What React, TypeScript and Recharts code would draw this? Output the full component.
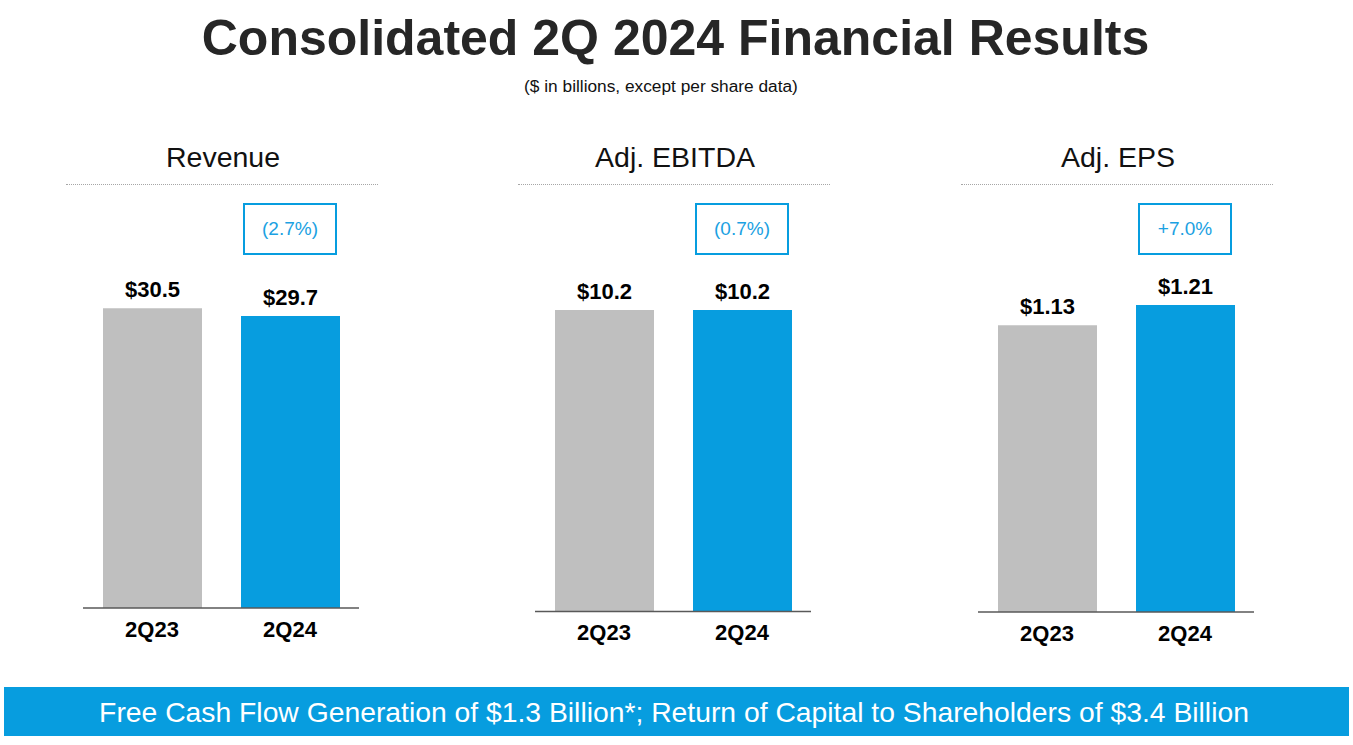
import { BarChart, Bar, XAxis, YAxis, Cell, LabelList } from 'recharts';

const FONT = '"Liberation Sans", Arial, Helvetica, sans-serif';

// periods shown in every panel
const categories = ['2Q23', '2Q24'];

// reported values ($ billions, EPS in $)
const revenueValues = [30.5, 29.7];
const ebitdaValues = [10.2, 10.2];
const epsValues = [1.13, 1.21];

const panelTitles = ['Revenue', 'Adj. EBITDA', 'Adj. EPS'];
const changeLabels = ['(2.7%)', '(0.7%)', '+7.0%'];

const BAR_COLORS = ['#bfbfbf', '#079ddf'];
const BLUE = '#079ddf';

const CHART_TOP = 190;

interface PanelProps {
    title: string;
    values: number[];
    decimals: number;
    yMax: number;
    axisLeft: number;
    baseline: number;
    change: string;
}

const Panel = ({ title, values, decimals, yMax, axisLeft, baseline, change }: PanelProps) => {
    const data = categories.map((c, i) => ({ period: c, value: values[i] }));
    const chartHeight = baseline - CHART_TOP + 45;

    return (
        <>
            <div
                style={{
                    position: 'absolute',
                    left: axisLeft + 140 - 160,
                    width: 320,
                    top: 142.6,
                    fontSize: 28.5,
                    lineHeight: '28.5px',
                    textAlign: 'center',
                    color: '#111',
                }}
            >
                {title}
            </div>
            <div
                style={{
                    position: 'absolute',
                    left: axisLeft - 17,
                    width: 312,
                    top: 184,
                    borderTop: '1px dotted #a6a6a6',
                }}
            />
            <div
                style={{
                    position: 'absolute',
                    left: axisLeft + 160,
                    top: 203,
                    width: 94,
                    height: 52,
                    boxSizing: 'border-box',
                    border: `2px solid ${BLUE}`,
                    color: '#1ba1e2',
                    fontSize: 19,
                    display: 'flex',
                    alignItems: 'center',
                    justifyContent: 'center',
                }}
            >
                {change}
            </div>
            <div style={{ position: 'absolute', left: axisLeft - 20, top: CHART_TOP }}>
                <BarChart
                    width={316}
                    height={chartHeight}
                    data={data}
                    margin={{ top: 10, right: 20, bottom: 5, left: 20 }}
                >
                    <XAxis
                        dataKey="period"
                        height={40}
                        tickLine={false}
                        tickMargin={7}
                        axisLine={{ stroke: '#595959', strokeWidth: 1.5 }}
                        tick={{ fill: '#000', fontSize: 22, fontWeight: 700 }}
                    />
                    <YAxis hide type="number" domain={[0, yMax]} allowDataOverflow />
                    <Bar dataKey="value" barSize={99} isAnimationActive={false}>
                        {data.map((_, i) => (
                            <Cell key={`cell-${i}`} fill={BAR_COLORS[i]} />
                        ))}
                        <LabelList
                            dataKey="value"
                            position="top"
                            offset={11}
                            formatter={(v: any) => `$${Number(v).toFixed(decimals)}`}
                            style={{ fill: '#000', fontSize: 22, fontWeight: 700 }}
                        />
                    </Bar>
                </BarChart>
            </div>
        </>
    );
};

export default function App() {
    return (
        <div
            style={{
                position: 'absolute',
                left: 0,
                top: 0,
                width: 1353,
                height: 745,
                background: '#fff',
                fontFamily: FONT,
                overflow: 'hidden',
            }}
        >
            <div
                style={{
                    position: 'absolute',
                    left: 0,
                    width: 1351,
                    top: 12.7,
                    fontSize: 50,
                    lineHeight: '50px',
                    fontWeight: 700,
                    textAlign: 'center',
                    color: '#262626',
                }}
            >
                Consolidated 2Q 2024 Financial Results
            </div>
            <div
                style={{
                    position: 'absolute',
                    left: 461,
                    width: 400,
                    top: 78,
                    fontSize: 17.3,
                    lineHeight: '17.3px',
                    textAlign: 'center',
                    color: '#111',
                }}
            >
                ($ in billions, except per share data)
            </div>

            <Panel
                title={panelTitles[0]}
                values={revenueValues}
                decimals={1}
                yMax={41.5}
                axisLeft={83}
                baseline={608}
                change={changeLabels[0]}
            />
            <Panel
                title={panelTitles[1]}
                values={ebitdaValues}
                decimals={1}
                yMax={13.92}
                axisLeft={535}
                baseline={611.5}
                change={changeLabels[1]}
            />
            <Panel
                title={panelTitles[2]}
                values={epsValues}
                decimals={2}
                yMax={1.624}
                axisLeft={978}
                baseline={612}
                change={changeLabels[2]}
            />

            <div
                style={{
                    position: 'absolute',
                    left: 4,
                    width: 1345,
                    top: 687,
                    height: 49,
                    background: BLUE,
                    color: '#fff',
                    fontSize: 28.3,
                    lineHeight: '48px',
                    paddingTop: 1,
                    paddingRight: 5,
                    boxSizing: 'border-box',
                    textAlign: 'center',
                    whiteSpace: 'nowrap',
                }}
            >
                Free Cash Flow Generation of $1.3 Billion*; Return of Capital to Shareholders of $3.4 Billion
            </div>
        </div>
    );
}
